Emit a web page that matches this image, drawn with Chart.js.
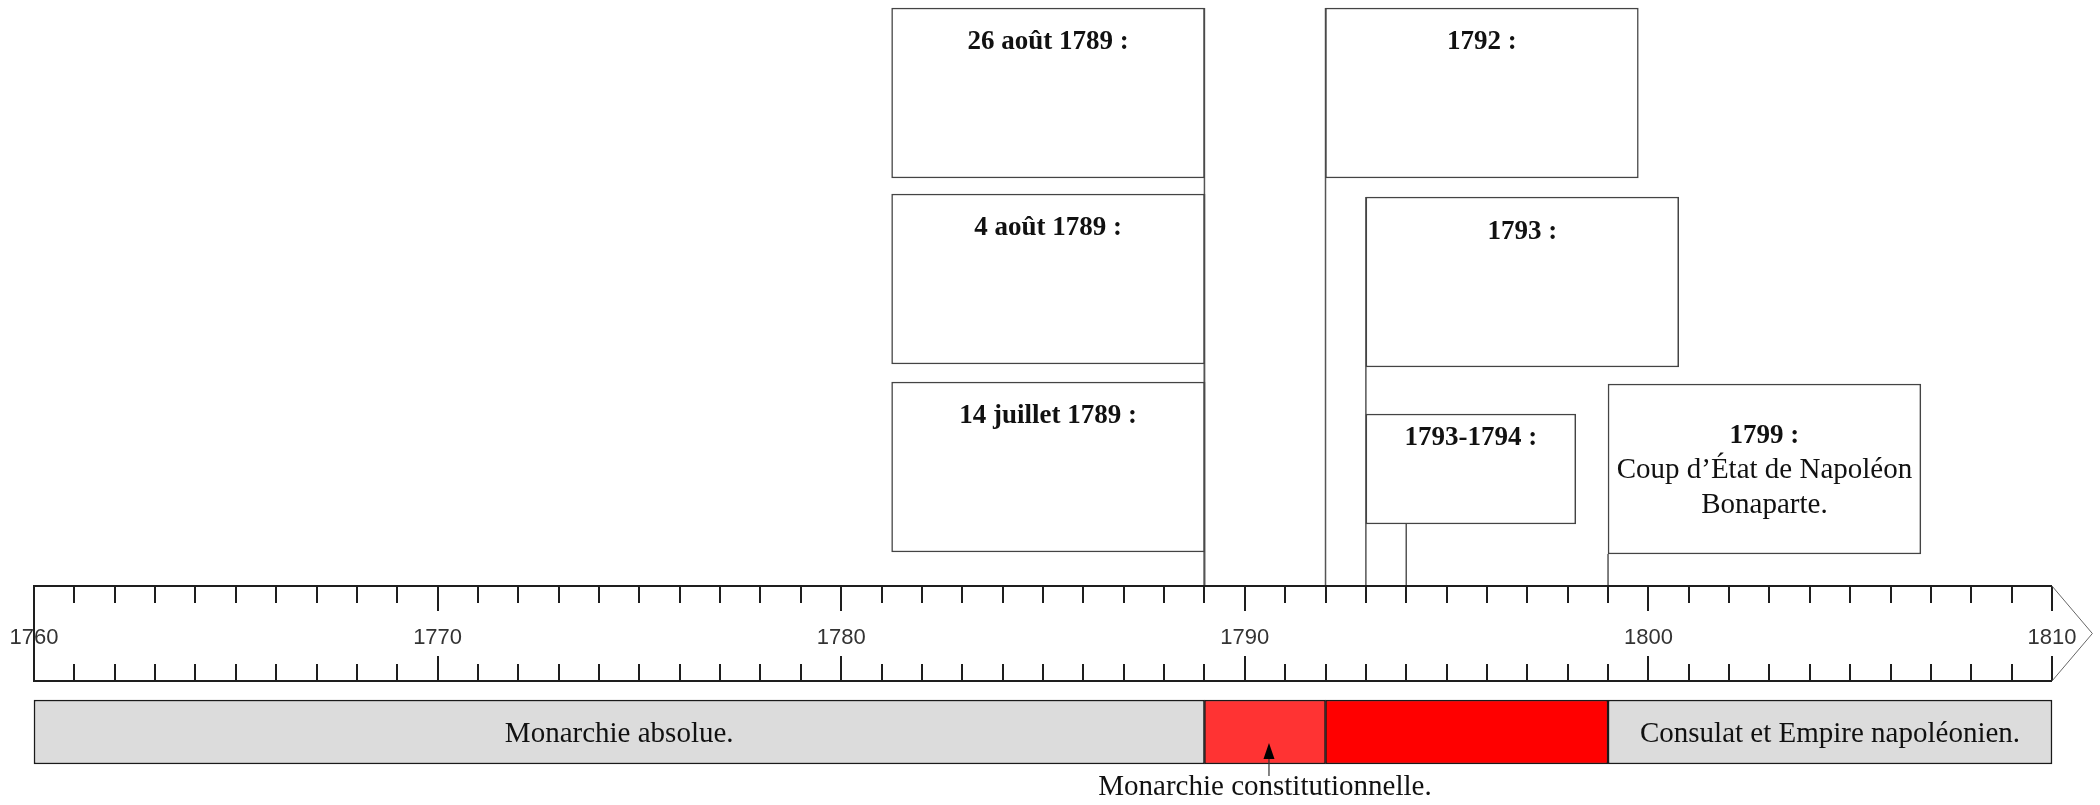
<!DOCTYPE html>
<html lang="fr">
<head>
<meta charset="utf-8">
<title>Frise chronologique 1760-1810</title>
<script src="https://cdn.jsdelivr.net/npm/chart.js@4.4.1/dist/chart.umd.min.js"></script>
<style>
  html, body { margin: 0; padding: 0; background: #fff; }
  #wrap { width: 2100px; height: 805px; position: relative; }
</style>
</head>
<body>
<div id="wrap"><canvas id="frise"></canvas></div>
<script>
// Données de la frise
const firstYear = 1760;
const lastYear = 1810;
const tickLabels = ['1760', '1770', '1780', '1790', '1800', '1810'];

const periodNames = ['Monarchie absolue.', 'Monarchie constitutionnelle.', '', 'Consulat et Empire napoléonien.'];
const periodStart = [1760, 1789, 1792, 1799];
const periodEnd = [1789, 1792, 1799, 1810];

const eventTitles = ['14 juillet 1789 :', '4 août 1789 :', '26 août 1789 :', '1792 :', '1793 :', '1793-1794 :', '1799 :'];
const eventTexts = [[], [], [], [], [], [], ['Coup d’État de Napoléon', 'Bonaparte.']];
const eventYears = [1789, 1789, 1789, 1792, 1793, 1794, 1799];

// Mise en page (axe y : une unité = un pixel du canevas)
const layout = {
    rulerTop: 586, rulerBottom: 681, arrowTip: 1811,
    minorTick: 17, majorTick: 25,
    periodTop: 700, periodBottom: 764,
    noteBaseline: 795, arrowFrom: 776, arrowTo: 743,
    // cadres : début / fin en années, haut / bas, décalage du titre, bout du trait
    boxFrom: [1781.25, 1781.25, 1781.25, 1792, 1793, 1793, 1799],
    boxTo: [1789, 1789, 1789, 1799.75, 1800.75, 1798.2, 1806.75],
    boxTop: [382, 194, 8, 8, 197, 414, 384],
    boxBottom: [552, 364, 178, 178, 367, 524, 554],
    titleOffset: [41, 41, 41, 41, 42, 31, 59],
    lineEnd: [382, 194, 8, 8, 197, 524, 554]
};

const periodColors = ['#dcdcdc', '#ff3333', '#ff0000', '#dcdcdc'];
const serif = '"Liberation Serif", "DejaVu Serif", serif';

// 1760 -> 34 px, 1810 -> 2052 px
const pxPerYear = (2052 - 34) / (lastYear - firstYear);
const xMin = firstYear - 34 / pxPerYear;
const xMax = xMin + 2100 / pxPerYear;

const lineDatasets = eventYears.map((year, i) => ({
    type: 'line',
    label: 'trait ' + eventTitles[i],
    order: 2,
    data: [{ x: year, y: layout.rulerTop }, { x: year, y: layout.lineEnd[i] }],
    borderColor: '#555',
    borderWidth: 1.5,
    pointRadius: 0,
    fill: false
}));

const boxDatasets = eventTitles.map((title, i) => ({
    type: 'bar',
    label: title,
    indexAxis: 'y',
    stack: 'frise',
    order: 1,
    data: [{ x: [layout.boxFrom[i], layout.boxTo[i]], y: (layout.boxTop[i] + layout.boxBottom[i]) / 2 }],
    barThickness: layout.boxBottom[i] - layout.boxTop[i],
    backgroundColor: '#ffffff',
    borderColor: '#444',
    borderWidth: 1.5,
    borderSkipped: false
}));

const periodDataset = {
    type: 'bar',
    label: 'périodes',
    indexAxis: 'y',
    stack: 'frise',
    order: 0,
    data: periodNames.map((name, i) => ({ x: [periodStart[i], periodEnd[i]], y: (layout.periodTop + layout.periodBottom) / 2 })),
    barThickness: layout.periodBottom - layout.periodTop,
    backgroundColor: periodColors,
    borderColor: '#1a1a1a',
    borderWidth: 1.5,
    borderSkipped: false
};

const friseText = {
    id: 'friseText',
    afterDatasetsDraw(chart) {
        const ctx = chart.ctx;
        const sx = chart.scales.x;
        const sy = chart.scales.y;
        const px = v => sx.getPixelForValue(v);
        const py = v => sy.getPixelForValue(v);

        ctx.save();

        // règle graduée
        const top = py(layout.rulerTop);
        const bot = py(layout.rulerBottom);
        const x0 = px(firstYear);
        const x1 = px(lastYear);
        ctx.strokeStyle = '#1e1e1e';
        ctx.lineWidth = 2;
        ctx.beginPath();
        ctx.moveTo(x1, top);
        ctx.lineTo(x0, top);
        ctx.lineTo(x0, bot);
        ctx.lineTo(x1, bot);
        for (let year = firstYear + 1; year <= lastYear; year++) {
            const len = (year - firstYear) % 10 === 0 ? layout.majorTick : layout.minorTick;
            const xx = Math.round(px(year));
            ctx.moveTo(xx, top);
            ctx.lineTo(xx, top + len);
            ctx.moveTo(xx, bot);
            ctx.lineTo(xx, bot - len);
        }
        ctx.stroke();

        ctx.strokeStyle = '#666';
        ctx.lineWidth = 1;
        ctx.beginPath();
        ctx.moveTo(x1, top);
        ctx.lineTo(px(layout.arrowTip), (top + bot) / 2);
        ctx.lineTo(x1, bot);
        ctx.stroke();

        ctx.fillStyle = '#333';
        ctx.font = '22px "Liberation Sans", Arial, sans-serif';
        ctx.textAlign = 'center';
        ctx.textBaseline = 'alphabetic';
        tickLabels.forEach(label => {
            ctx.fillText(label, px(Number(label)), (top + bot) / 2 + 10);
        });

        // noms des périodes
        ctx.fillStyle = '#111';
        ctx.font = '29px ' + serif;
        const midY = py((layout.periodTop + layout.periodBottom) / 2);
        periodNames.forEach((name, i) => {
            if (!name) return;
            const a = px(periodStart[i]);
            const b = px(periodEnd[i]);
            const cx = (a + b) / 2;
            if (ctx.measureText(name).width < b - a - 10) {
                ctx.fillText(name, cx, midY + 10);
            } else {
                ctx.fillText(name, cx, py(layout.noteBaseline));
                const ax = cx + 4;
                ctx.strokeStyle = '#333';
                ctx.lineWidth = 1.2;
                ctx.beginPath();
                ctx.moveTo(ax, py(layout.arrowFrom));
                ctx.lineTo(ax, py(layout.arrowTo) + 10);
                ctx.stroke();
                ctx.fillStyle = '#000';
                ctx.beginPath();
                ctx.moveTo(ax, py(layout.arrowTo));
                ctx.lineTo(ax - 5.5, py(layout.arrowTo) + 16);
                ctx.lineTo(ax + 5.5, py(layout.arrowTo) + 16);
                ctx.closePath();
                ctx.fill();
                ctx.fillStyle = '#111';
            }
        });

        // textes des cadres
        eventTitles.forEach((title, i) => {
            const cx = (px(layout.boxFrom[i]) + px(layout.boxTo[i])) / 2;
            let yy = py(layout.boxTop[i]) + layout.titleOffset[i];
            ctx.font = 'bold 27px ' + serif;
            ctx.fillText(title, cx, yy);
            ctx.font = '29px ' + serif;
            eventTexts[i].forEach(line => {
                yy += 35;
                ctx.fillText(line, cx, yy);
            });
        });

        ctx.restore();
    }
};

new Chart(document.getElementById('frise'), {
    type: 'bar',
    data: {
        datasets: [...lineDatasets, ...boxDatasets, periodDataset]
    },
    options: {
        responsive: true,
        maintainAspectRatio: false,
        animation: false,
        events: [],
        layout: { padding: 0 },
        plugins: {
            legend: { display: false },
            tooltip: { enabled: false }
        },
        scales: {
            x: { type: 'linear', min: xMin, max: xMax, offset: false, stacked: false, display: false },
            y: { type: 'linear', min: 0, max: 805, reverse: true, offset: false, display: false }
        }
    },
    plugins: [friseText]
});
</script>
</body>
</html>
